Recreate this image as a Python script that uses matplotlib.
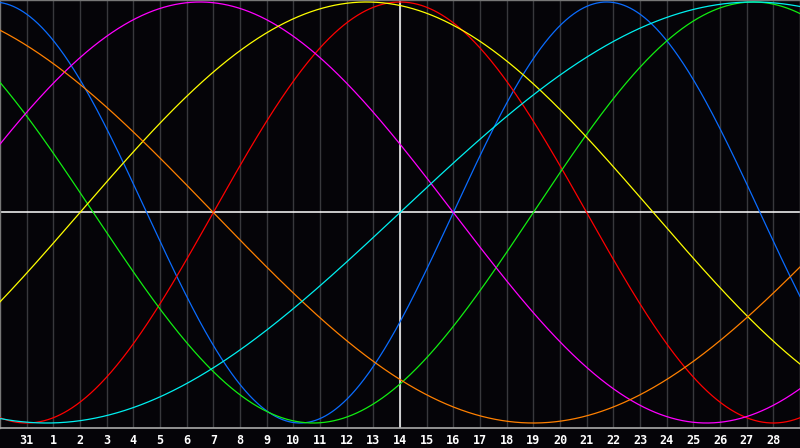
import numpy as np
import matplotlib
matplotlib.use("Agg")
import matplotlib.pyplot as plt

# rótulos dos dias (31 de janeiro + fevereiro)
dias = ["31"] + [str(d) for d in range(1, 29)]
dia_central = 14  # linha vertical branca

# ciclos (dias) e dia do ciclo no dia 14
periodos = [23, 28, 33, 38, 43, 48, 53]
fase_no_dia_central = [21, 7, 28, 17, 12, 31, 0]
cores = ["#0a6cff", "#ff0000", "#11ee11", "#ff00ff", "#ffff00", "#ff8000", "#00f0f0"]

fundo = "#050408"

fig = plt.figure(figsize=(8, 4.48), dpi=100, facecolor=fundo)
ax = fig.add_axes([0, 20 / 448, 1, 428 / 448])
ax.set_facecolor(fundo)

x = np.linspace(-1, 29, 1200)
for per, fase, cor in zip(periodos, fase_no_dia_central, cores):
    t = fase + (x - dia_central)
    ax.plot(x, np.sin(2 * np.pi * t / per), color=cor, lw=0.9, zorder=3)

# grade vertical
for i in range(len(dias)):
    ax.axvline(i, color="#38383c", lw=1, zorder=1)

ax.axhline(0, color="white", lw=1.1, zorder=2)
ax.axvline(dia_central, color="white", lw=1.1, zorder=2)

ax.set_xlim(-1, 29)
ax.set_ylim(-1 - 5 / 210.5, 1 + 2 / 210.5)

for lado in ["top", "left", "right"]:
    ax.spines[lado].set_color("#777777")
    ax.spines[lado].set_linewidth(1)
ax.spines["bottom"].set_color("#aaaaaa")
ax.spines["bottom"].set_linewidth(1.2)

ax.set_yticks([])
ax.set_xticks(range(len(dias)))
ax.set_xticklabels(dias, color="white", fontsize=8.5, fontweight="bold",
                   family="DejaVu Sans Mono")
ax.tick_params(axis="x", length=0, pad=4)

fig.savefig("out.png", dpi=100, facecolor=fundo)
